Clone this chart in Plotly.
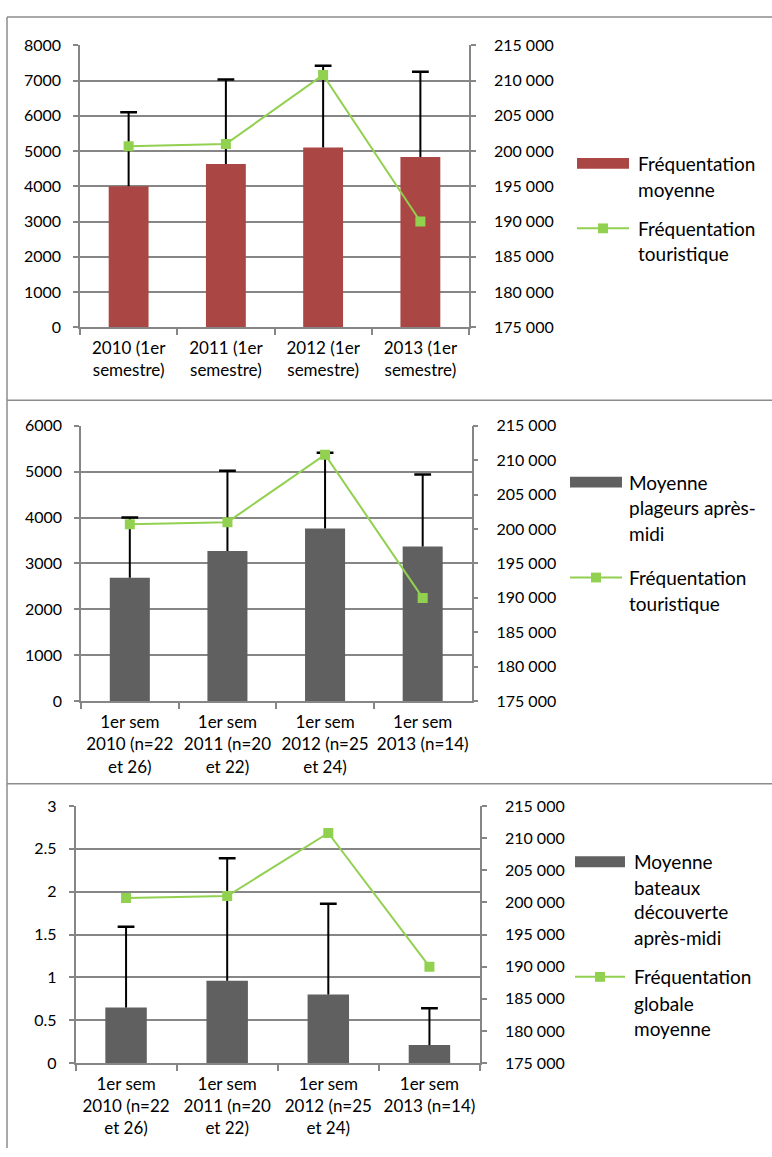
import plotly.graph_objects as go

W, H = 772, 1157

LABELS_SEMESTRE = [
    "2010 (1er<br>semestre)",
    "2011 (1er<br>semestre)",
    "2012 (1er<br>semestre)",
    "2013 (1er<br>semestre)",
]
LABELS_N = [
    "1er sem<br>2010 (n=22<br>et 26)",
    "1er sem<br>2011 (n=20<br>et 22)",
    "1er sem<br>2012 (n=25<br>et 24)",
    "1er sem<br>2013 (n=14)",
]

FREQ_TOURISTIQUE = [200700, 201000, 210800, 190000]

FREQ_MOYENNE = [4000, 4630, 5100, 4830]
FREQ_MOYENNE_SD = [2100, 2400, 2320, 2420]

PLAGEURS = [2690, 3270, 3760, 3370]
PLAGEURS_SD = [1310, 1750, 1650, 1570]

BATEAUX = [0.65, 0.96, 0.80, 0.21]
BATEAUX_SD = [0.94, 1.43, 1.06, 0.43]

RED = "#AA4643"
GREY_BAR = "#606060"
GREEN = "#92D050"
AXIS = "#868686"
FONT = "Lato"


def px(x):
    return x / W


def py(y):
    return 1 - y / H


PANELS = [
    dict(
        cats=LABELS_SEMESTRE, bars=FREQ_MOYENNE, sd=FREQ_MOYENNE_SD, color=RED,
        yrange=[0, 8000], dtick=1000, box=(80, 469, 36, 322.5),
        legend=[["Fréquentation", "moyenne"], ["Fréquentation", "touristique"]],
        leg_sym=(577, 629), leg_text=636, leg_y=[[156, 182], [222, 248]],
    ),
    dict(
        cats=LABELS_N, bars=PLAGEURS, sd=PLAGEURS_SD, color=GREY_BAR,
        yrange=[0, 6000], dtick=1000, box=(81, 471.5, 422.7, 702.7),
        legend=[["Moyenne", "plageurs après-", "midi"], ["Fréquentation", "touristique"]],
        leg_sym=(570, 622), leg_text=627, leg_y=[[480, 506, 532], [577, 603]],
    ),
    dict(
        cats=LABELS_N, bars=BATEAUX, sd=BATEAUX_SD, color=GREY_BAR,
        yrange=[0, 3], dtick=0.5, box=(75.5, 480, 809.3, 1070.7),
        legend=[["Moyenne", "bateaux", "découverte", "après-midi"],
                ["Fréquentation", "globale", "moyenne"]],
        leg_sym=(575, 625), leg_text=632, leg_y=[[866, 892, 917, 943], [983, 1010, 1036]],
    ),
]

fig = go.Figure()
layout = {}
shapes = []
annotations = []

for i, p in enumerate(PANELS, start=1):
    xa = "x" if i == 1 else f"x{i}"
    yl = "y" if i == 1 else f"y{2 * i - 1}"
    yr = f"y{2 * i}"
    x0, x1, ytop, ybot = p["box"]

    # bars + vertical part of the error bars
    fig.add_trace(go.Bar(
        x=p["cats"], y=p["bars"], width=0.41, marker_color=p["color"],
        marker_line_width=0,
        error_y=dict(type="data", array=p["sd"], arrayminus=[0] * len(p["sd"]),
                     symmetric=False, color="black", thickness=2, width=0),
        xaxis=xa, yaxis=yl, showlegend=False,
    ))
    # error bar caps
    tops = [b + s for b, s in zip(p["bars"], p["sd"])]
    fig.add_trace(go.Scatter(
        x=p["cats"], y=tops, mode="markers",
        marker=dict(symbol="line-ew", size=12, line=dict(color="black", width=2.5)),
        xaxis=xa, yaxis=yl, showlegend=False,
    ))
    # tourist frequentation line on right axis
    fig.add_trace(go.Scatter(
        x=p["cats"], y=FREQ_TOURISTIQUE, mode="lines+markers",
        line=dict(color=GREEN, width=2),
        marker=dict(symbol="square", size=10, color=GREEN),
        xaxis=xa, yaxis=yr, showlegend=False,
    ))

    xkey = "xaxis" if i == 1 else f"xaxis{i}"
    ylkey = "yaxis" if i == 1 else f"yaxis{2 * i - 1}"
    yrkey = f"yaxis{2 * i}"
    xfont = dict(family=FONT, size=17, color="black")
    yfont = dict(family=FONT, size=16, color="black")
    layout[xkey] = dict(
        domain=[px(x0), px(x1)], anchor=yl, type="category", tickangle=0,
        showline=True, linecolor=AXIS, linewidth=1.5,
        ticks="outside", tickson="boundaries", ticklen=6, tickcolor=AXIS, tickwidth=1.5,
        showgrid=False, tickfont=xfont, ticklabelstandoff=5,
    )
    layout[ylkey] = dict(
        domain=[py(ybot), py(ytop)], anchor=xa, range=p["yrange"], dtick=p["dtick"],
        showgrid=True, gridcolor=AXIS, gridwidth=1.5, zeroline=False,
        showline=True, linecolor=AXIS, linewidth=1.5,
        ticks="outside", ticklen=5, tickcolor=AXIS, tickwidth=1.5,
        tickfont=yfont, ticklabelstandoff=9,
    )
    layout[yrkey] = dict(
        overlaying=yl, side="right", anchor=xa, range=[175000, 215000], dtick=5000,
        tickformat=",d",
        showgrid=False, zeroline=False,
        showline=True, linecolor=AXIS, linewidth=1.5,
        ticks="outside", ticklen=5, tickcolor=AXIS, tickwidth=1.5,
        tickfont=yfont, ticklabelstandoff=15,
    )

    # legend drawn by hand (Excel-style wide swatches)
    sx0, sx1 = p["leg_sym"]
    bar_y = p["leg_y"][0][0]
    shapes.append(dict(type="rect", xref="paper", yref="paper",
                       x0=px(sx0), x1=px(sx1), y0=py(bar_y + 5.5), y1=py(bar_y - 5.5),
                       fillcolor=p["color"], line_width=0))
    line_y = p["leg_y"][1][0]
    shapes.append(dict(type="line", xref="paper", yref="paper",
                       x0=px(sx0), x1=px(sx1), y0=py(line_y), y1=py(line_y),
                       line=dict(color=GREEN, width=2)))
    mid = (sx0 + sx1) / 2
    shapes.append(dict(type="rect", xref="paper", yref="paper",
                       x0=px(mid - 5), x1=px(mid + 5), y0=py(line_y + 5), y1=py(line_y - 5),
                       fillcolor=GREEN, line_width=0))
    for lines, ys in zip(p["legend"], p["leg_y"]):
        for txt, yy in zip(lines, ys):
            annotations.append(dict(
                text=txt, xref="paper", yref="paper", x=px(p["leg_text"]), y=py(yy),
                xanchor="left", yanchor="middle", showarrow=False,
                font=dict(family=FONT, size=19, color="black"),
            ))

# panel frame
frame = dict(color="#8c8c8c", width=1.5)
shapes.append(dict(type="line", xref="paper", yref="paper",
                   x0=px(7), x1=1, y0=py(7), y1=py(7), line=frame))
shapes.append(dict(type="line", xref="paper", yref="paper",
                   x0=px(7), x1=px(7), y0=py(7), y1=0, line=frame))
for sep in (396.7, 786.7):
    shapes.append(dict(type="line", xref="paper", yref="paper",
                       x0=px(7), x1=1, y0=py(sep), y1=py(sep), line=frame))

fig.update_layout(
    width=W, height=H, margin=dict(l=0, r=0, t=0, b=0),
    paper_bgcolor="white", plot_bgcolor="white",
    separators=". ", bargap=0.59,
    shapes=shapes, annotations=annotations,
    font=dict(family=FONT, size=17, color="black"),
    **layout,
)

# drop the browser's default body margin so the figure fills the window exactly
fig.write_html(
    "out.html",
    config={"displayModeBar": False},
    post_script="document.body.style.margin = '0';",
)
